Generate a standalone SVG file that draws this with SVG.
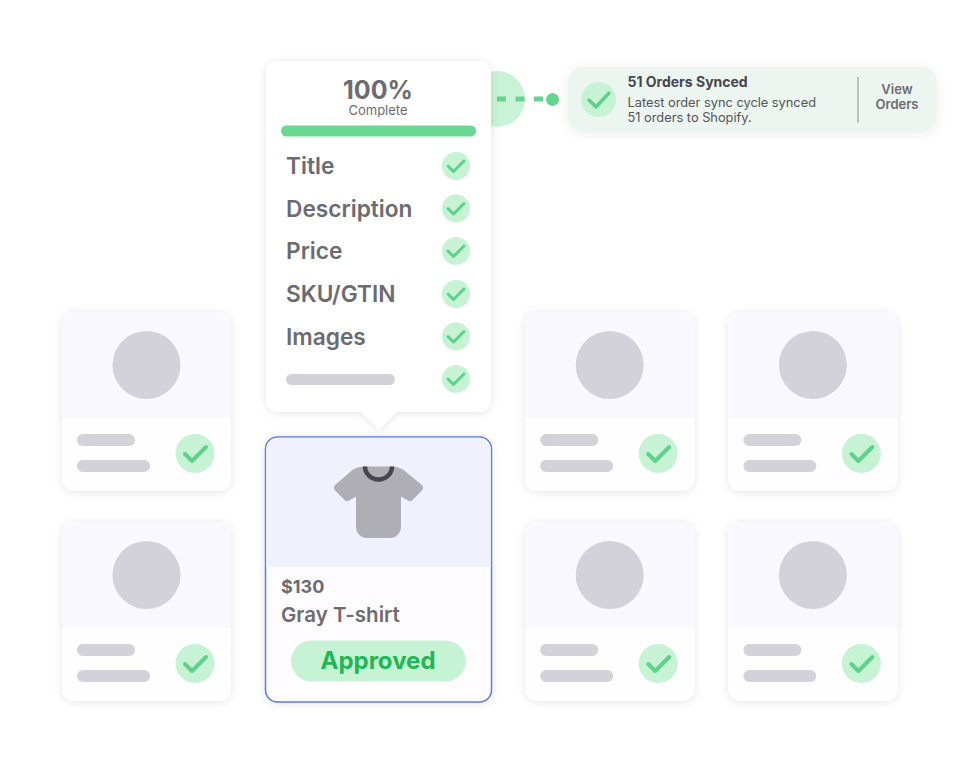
<svg xmlns="http://www.w3.org/2000/svg" width="960" height="762" viewBox="0 0 960 762">
<style>
text{font-family:Inter,"Liberation Sans",sans-serif;fill:#6c6b71}
.row{font-size:22.700px;font-weight:600}
.bar{fill:#d3d1d9}
.g{fill:#c6f3d4}
.ck{fill:none;stroke:#5fd18b;stroke-width:3;stroke-linecap:round;stroke-linejoin:round}
.card{filter:url(#s)}
</style>
<defs>
<filter id="s" x="-20%" y="-20%" width="140%" height="140%"><feDropShadow dx="0" dy="1" stdDeviation="4.500" flood-color="#000" flood-opacity=".11"/></filter>
<filter id="s2" x="-10%" y="-30%" width="120%" height="160%"><feDropShadow dx="0" dy="2" stdDeviation="6" flood-color="#000" flood-opacity=".07"/></filter>
<g id="card">
<rect width="169" height="179" rx="12" fill="#fff" class="card"/>
<path d="M0 12a12 12 0 0 1 12-12H157a12 12 0 0 1 12 12V106H0Z" fill="#f9f8fe"/>
<path d="M0 106H169V167a12 12 0 0 1-12 12H12a12 12 0 0 1-12-12Z" fill="#fefdff"/>
<circle cx="84.500" cy="53" r="34" fill="#d3d1d9"/>
<rect x="15" y="122" width="58" height="12" rx="6" class="bar"/>
<rect x="15" y="148" width="73" height="12" rx="6" class="bar"/>
<circle cx="133" cy="141.500" r="19.500" class="g"/>
<path d="M123 142l7 7 14-14" class="ck" style="stroke-width:4"/>
</g>
<g id="tick">
<circle r="14" class="g"/>
<path d="M-8 0l5.500 5.500L8-5" class="ck"/>
</g>
</defs>

<g id="connectors">
<circle cx="497" cy="99" r="28" fill="#c9f3d6"/>
<path d="M497 99H552" fill="none" stroke="#63d58d" stroke-width="5" stroke-dasharray="9 9.500"/>
<circle cx="552.500" cy="99.500" r="6.500" fill="#63d58d"/>
</g>

<g id="card-1"><use href="#card" x="62" y="312"/></g>
<g id="card-2"><use href="#card" x="62" y="522"/></g>
<g id="card-3"><use href="#card" x="525.200" y="312"/></g>
<g id="card-4"><use href="#card" x="525.200" y="522"/></g>
<g id="card-5"><use href="#card" x="728.400" y="312"/></g>
<g id="card-6"><use href="#card" x="728.400" y="522"/></g>

<g id="product-card">
<rect x="265.500" y="437" width="226" height="265" rx="12" fill="#fefcff" stroke="#5f7be6" stroke-width="1.500" filter="url(#s)"/>
<path d="M266.300 449a11.500 11.500 0 0 1 11.500-11.200H479.200a11.500 11.500 0 0 1 11.500 11.200V567H266.300Z" fill="#f1f1fd"/>
<path d="M336 490a3 3 0 0 1 0-4.500L354 470Q358 467.500 364 467.500H392Q398 467.500 402 470L421 485.500a3 3 0 0 1 0 4.500L412 499a3 3 0 0 1-4 .500L400 495V527a10 10 0 0 1-10 10H367a10 10 0 0 1-10-10V495L349 499.500a3 3 0 0 1-4-.500Z" fill="#b0aeb5" stroke="#b0aeb5" stroke-width="2" stroke-linejoin="round"/>
<path d="M365 466.500a13.500 13 0 0 0 27 0" fill="none" stroke="#47464d" stroke-width="4.500"/>
<text x="281" y="593" style="font-size:18px;font-weight:700">$130</text>
<text x="281" y="622" style="font-size:20.500px;font-weight:600">Gray T-shirt</text>
<rect x="291" y="640.500" width="175" height="41" rx="20.500" class="g"/>
<text x="378" y="669" text-anchor="middle" style="font-size:24px;font-weight:700;fill:#1fb755">Approved</text>
</g>

<g id="checklist-popover">
<path d="M278 61H479a12 12 0 0 1 12 12V400a12 12 0 0 1-12 12H397L379 429 361 412H278a12 12 0 0 1-12-12V73a12 12 0 0 1 12-12Z" fill="#fff" filter="url(#s)"/>
<text x="378" y="99" text-anchor="middle" style="font-size:25px;font-weight:700">100%</text>
<text x="378" y="114.500" text-anchor="middle" style="font-size:13px">Complete</text>
<rect x="281" y="125.500" width="195" height="11" rx="5.500" fill="#68d991"/>
<text x="286" y="174" class="row">Title</text>
<text x="286" y="216.500" class="row">Description</text>
<text x="286" y="259" class="row">Price</text>
<text x="286" y="301.500" class="row">SKU/GTIN</text>
<text x="286" y="344.500" class="row">Images</text>
<rect x="286" y="374" width="109" height="11" rx="5.500" class="bar"/>
<use href="#tick" x="456" y="166"/>
<use href="#tick" x="456" y="208.500"/>
<use href="#tick" x="456" y="251"/>
<use href="#tick" x="456" y="294"/>
<use href="#tick" x="456" y="336.500"/>
<use href="#tick" x="456" y="379"/>
</g>

<g id="sync-toast">
<rect x="568" y="67" width="369" height="65" rx="15" fill="#ecf5f0" filter="url(#s2)"/>
<circle cx="598.500" cy="99.500" r="17.500" class="g"/>
<path d="M589 100l7 7 13-14" class="ck" style="stroke-width:3.500"/>
<text x="627.500" y="87" style="font-size:14px;font-weight:700;fill:#47464c">51 Orders Synced</text>
<text x="627.500" y="107" style="font-size:12.800px;fill:#55545a">Latest order sync cycle synced</text>
<text x="627.500" y="122" style="font-size:12.800px;fill:#55545a">51 orders to Shopify.</text>
<path d="M858 77V122.500" stroke="#a9aeac" stroke-width="1.500"/>
<text x="897" y="94" text-anchor="middle" style="font-size:13px;font-weight:600">View</text>
<text x="897" y="109" text-anchor="middle" style="font-size:13px;font-weight:600">Orders</text>
</g>
</svg>
